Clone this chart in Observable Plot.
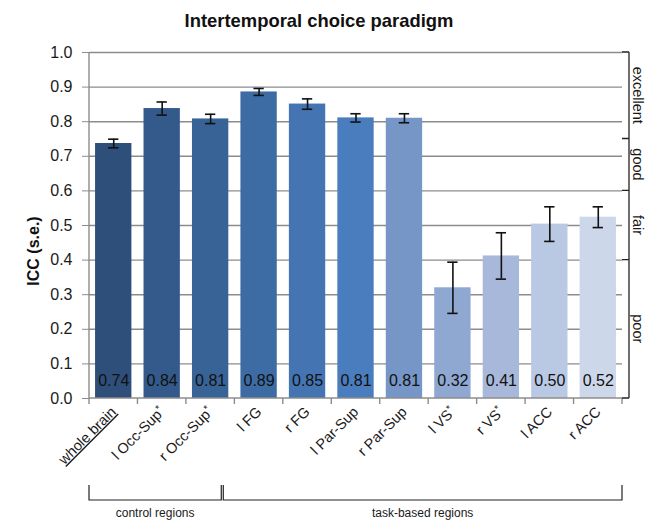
<!DOCTYPE html>
<html><head><meta charset="utf-8">
<script src="https://cdn.jsdelivr.net/npm/d3@7"></script>
<script src="https://cdn.jsdelivr.net/npm/@observablehq/plot@0.6"></script>
<style>body{margin:0;background:#fff} svg{display:block}</style>
</head><body><div id="chart"></div>
<script>
const regions = ["whole brain","l Occ-Sup*","r Occ-Sup*","l FG","r FG","l Par-Sup","r Par-Sup","l VS*","r VS*","l ACC","r ACC"];
const icc = [0.737, 0.838, 0.808, 0.886, 0.851, 0.811, 0.810, 0.320, 0.412, 0.504, 0.524];
const se = [0.0125, 0.019, 0.0135, 0.010, 0.015, 0.012, 0.013, 0.074, 0.067, 0.050, 0.030];
const barColors = ["#2E4F7A","#335A8A","#386397","#3D6CA5","#4475B2","#4A7DBE","#7596C6","#8FA8D2","#A8B8DA","#B9C8E3","#CDD7EA"];
const yTicks = [0,0.1,0.2,0.3,0.4,0.5,0.6,0.7,0.8,0.9,1.0];
const ratingBounds = [0,0.4,0.6,0.75,1.0];
const ratingLabels = ["poor","fair","good","excellent"];
const groupLabels = ["control regions","task-based regions"];
const groupStarts = [0, 3];
const groupEnds = [3, 11];
const titleText = "Intertemporal choice paradigm";
const yLabelText = "ICC (s.e.)";

const data = regions.map((r,i)=>({region:r, icc:icc[i], se:se[i], color:barColors[i]}));
const FONT = "'Liberation Sans', Arial, sans-serif";

const plot = Plot.plot({
  width:646, height:523, marginTop:52, marginBottom:125, marginLeft:89, marginRight:24,
  style:{fontFamily:FONT, fontSize:"16px", background:"#fff", color:"#1a1a1a"},
  x:{domain:regions, paddingInner:0.25, paddingOuter:0.125, round:false, axis:null},
  y:{domain:[0,1], axis:null},
  marks:[
    Plot.gridY(yTicks.slice(1), {stroke:"#8c8c8c", strokeOpacity:1, strokeWidth:1.4}),
    Plot.barY(data, {x:"region", y:"icc", fill:"color"}),
    Plot.ruleX(data, {x:"region", y1:d=>d.icc-d.se, y2:d=>d.icc+d.se, stroke:"#111", strokeWidth:1.6}),
    Plot.tickY(data, {x:"region", y:d=>d.icc+d.se, insetLeft:13, insetRight:13, stroke:"#111", strokeWidth:1.6}),
    Plot.tickY(data, {x:"region", y:d=>d.icc-d.se, insetLeft:13, insetRight:13, stroke:"#111", strokeWidth:1.6}),
    Plot.text(data, {x:"region", y:()=>0.05, text:d=>d.icc.toFixed(2), fontSize:16, fill:"#111"}),
    Plot.axisY({ticks:yTicks, tickFormat:".1f", tickSize:7, tickPadding:10, stroke:"#8c8c8c", strokeOpacity:1, fontSize:16, label:null}),
    Plot.axisX({tickRotate:-45, tickSize:0, tickPadding:11, fontSize:14.5, label:null})
  ]
});
document.getElementById("chart").appendChild(plot);

const svg = d3.select(plot);
const xs = plot.scale("x"), ys = plot.scale("y");
const step = xs.step, bw = xs.bandwidth;
const x0 = xs.apply(regions[0]) - (step - bw)/2;
const bound = i => x0 + i*step;
const Y = v => ys.apply(v);
const base = Y(0);

// x tick label styling
svg.selectAll('g[aria-label="x-axis tick label"] text').each(function(){
  const t = this.textContent;
  const el = d3.select(this);
  if (t === regions[0]) el.style("text-decoration","underline");
  if (t.endsWith("*")) {
    el.text(t.slice(0,-1));
    el.append("tspan").attr("font-size","10px").attr("baseline-shift","super").text("*");
  }
});

const deco = svg.append("g").attr("fill","none");
// axes lines
deco.append("line").attr("x1",x0).attr("x2",x0).attr("y1",base).attr("y2",Y(1)).attr("stroke","#8c8c8c").attr("stroke-width",1.4);
deco.append("line").attr("x1",x0).attr("x2",bound(regions.length)).attr("y1",base).attr("y2",base).attr("stroke","#8c8c8c").attr("stroke-width",1.4);
for (let i=0;i<=regions.length;i++){
  deco.append("line").attr("x1",bound(i)).attr("x2",bound(i)).attr("y1",base).attr("y2",base+6).attr("stroke","#8c8c8c").attr("stroke-width",1.4);
}
// right rating bracket
const xe = bound(regions.length);
const bx = xe + 7;
let p = `M${bx},${Y(ratingBounds[0])}V${Y(ratingBounds[ratingBounds.length-1])}`;
ratingBounds.forEach(b => { p += `M${xe},${Y(b)}H${bx}`; });
deco.append("path").attr("d",p).attr("stroke","#222").attr("stroke-width",1.3);
ratingLabels.forEach((lab,i)=>{
  const m = (ratingBounds[i]+ratingBounds[i+1])/2;
  svg.append("text").attr("transform",`translate(${bx+8.5},${Y(m)}) rotate(90)`)
    .attr("text-anchor","middle").attr("dominant-baseline","central")
    .attr("font-family",FONT).attr("font-size",14.5).attr("fill","#1a1a1a").text(lab);
});
// bottom group brackets
const junction = bound(groupEnds[0]) - 0.27*step;
const gx = [[bound(groupStarts[0]), junction],[junction+2, bound(groupEnds[1])]];
const by0 = base + 87, by1 = base + 102;
gx.forEach(([a,b],i)=>{
  deco.append("path").attr("d",`M${a},${by0}V${by1}H${b}V${by0}`).attr("stroke","#222").attr("stroke-width",1.2);
  svg.append("text").attr("x",(a+b)/2).attr("y",by1+17).attr("text-anchor","middle")
    .attr("font-family",FONT).attr("font-size",12).attr("fill","#1a1a1a").text(groupLabels[i]);
});
// title and y label
svg.append("text").attr("x",319).attr("y",27).attr("text-anchor","middle")
  .attr("font-family",FONT).attr("font-size",18.4).attr("font-weight","bold").attr("fill","#111").text(titleText);
svg.append("text").attr("transform",`translate(33,${(Y(0)+Y(1))/2 + 26}) rotate(-90)`)
  .attr("text-anchor","middle").attr("dominant-baseline","central")
  .attr("font-family",FONT).attr("font-size",16).attr("font-weight","bold").attr("fill","#111").text(yLabelText);
</script>
</body></html>
